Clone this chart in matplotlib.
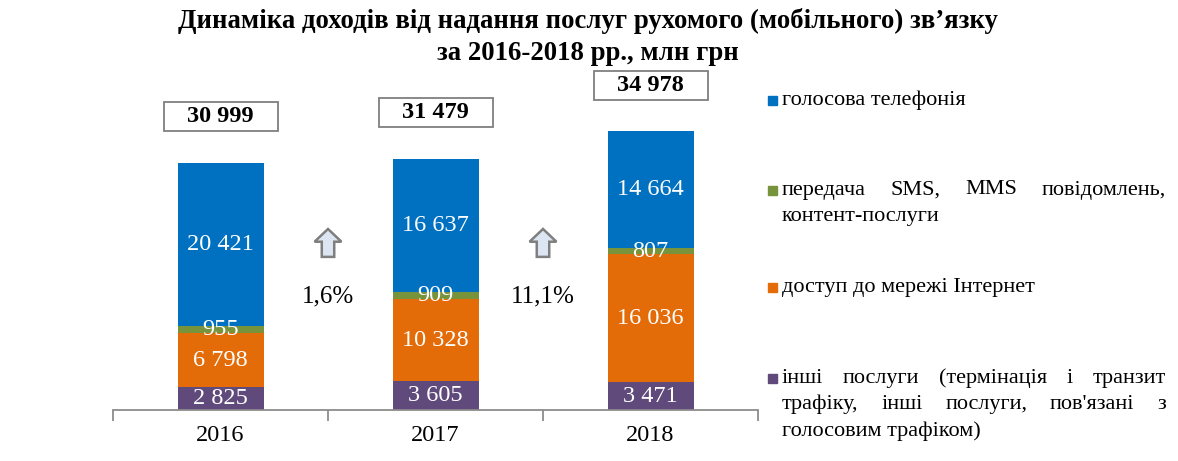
import matplotlib
matplotlib.use('Agg')
import matplotlib.pyplot as plt
from matplotlib.patches import FancyArrow, Rectangle
from matplotlib.transforms import IdentityTransform
import numpy as np

plt.rcParams['font.family'] = ['Liberation Serif', 'DejaVu Serif']

years = ['2016', '2017', '2018']
other = [2825, 3605, 3471]
internet = [6798, 10328, 16036]
sms = [955, 909, 807]
voice = [20421, 16637, 14664]
growth = ['1,6%', '11,1%']

series = [other, internet, sms, voice]
colors = ['#604A7B', '#E36C09', '#77933C', '#0070C0']
legend_text = [
    ['голосова телефонія'],
    ['передача SMS, MMS повідомлень,', 'контент-послуги'],
    ['доступ до мережі Інтернет'],
    ['інші послуги (термінація і транзит', 'трафіку, інші послуги, пов\'язані з', 'голосовим трафіком)'],
]
legend_colors = ['#0070C0', '#77933C', '#E36C09', '#604A7B']

title = 'Динаміка доходів від надання послуг рухомого (мобільного) зв’язку\nза 2016-2018 рр., млн грн'

W, H = 1178, 461
fig = plt.figure(figsize=(W / 100, H / 100), dpi=100)
ax = fig.add_axes([113 / W, 51 / H, 645 / W, 319 / H])

def fmt(v):
    return '{:,}'.format(v).replace(',', ' ')

x = np.arange(len(years))
bottom = np.zeros(len(years))
for vals, c in zip(series, colors):
    ax.bar(x, vals, 0.4, bottom=bottom, color=c, zorder=2)
    for xi, b, v in zip(x, bottom, vals):
        ax.text(xi, b + v / 2, fmt(v), ha='center', va='center',
                color='white', fontsize=17.5)
    bottom = bottom + np.array(vals)
totals = bottom

ax.set_xlim(-0.5, 2.5)
ax.set_ylim(0, 40000)

# total boxes above bars (pixel-sized boxes)
for xi, t in zip(x, totals):
    px, py = ax.transData.transform((xi, t))
    cy = py + 46
    fig.patches.append(Rectangle((px - 57, cy - 14.5), 114, 29, transform=IdentityTransform(),
                                 fc='white', ec='#7f7f7f', lw=1.3, figure=fig))
    fig.text(px / W, cy / H, fmt(int(t)), ha='center', va='center',
             fontsize=17.5, fontweight='bold')

# growth arrows between bars
for i, g in enumerate(growth):
    xm = i + 0.5
    ax.add_patch(FancyArrow(xm, 19200, 0, 3500, width=0.058, head_width=0.125,
                            head_length=1600, length_includes_head=True,
                            fc='#DCE6F2', ec='#7f7f7f', lw=1.8, zorder=3))
    ax.text(xm, 14200, g, ha='center', va='center', fontsize=18)

for s in ['top', 'right', 'left']:
    ax.spines[s].set_visible(False)
ax.spines['bottom'].set_color('#8c8c8c')
ax.spines['bottom'].set_linewidth(1.3)
ax.set_yticks([])
ax.set_xticks(x)
ax.set_xticklabels(years, fontsize=17.5)
ax.tick_params(axis='x', length=0, pad=11)
ax.set_xticks([-0.5, 0.5, 1.5, 2.5], minor=True)
ax.tick_params(axis='x', which='minor', length=8, color='#8c8c8c', width=1.3)

fig.text(588 / W, 1 - 37 / H, title, ha='center', va='center', fontsize=19.3,
         fontweight='bold', linespacing=1.4)

# legend with justified text
renderer = fig.canvas.get_renderer()
left, right = 782, 1166
starts = [100, 190, 287, 378]
lh = 26.5
for lines, c, y0 in zip(legend_text, legend_colors, starts):
    fig.patches.append(Rectangle((768 / W, 1 - (y0 + 5) / H), 9 / W, 9 / H,
                                 transform=fig.transFigure, color=c, figure=fig))
    for j, line in enumerate(lines):
        yy = 1 - (y0 + j * lh) / H
        words = line.split(' ')
        if j == len(lines) - 1 or len(words) == 1:
            fig.text(left / W, yy, line, ha='left', va='center', fontsize=16)
            continue
        ts = [fig.text(0, yy, w, ha='left', va='center', fontsize=16) for w in words]
        widths = [t.get_window_extent(renderer).width for t in ts]
        gap = (right - left - sum(widths)) / (len(words) - 1)
        px = left
        for t, w in zip(ts, widths):
            t.set_x(px / W)
            px += w + gap

fig.savefig('out.png', dpi=100)
